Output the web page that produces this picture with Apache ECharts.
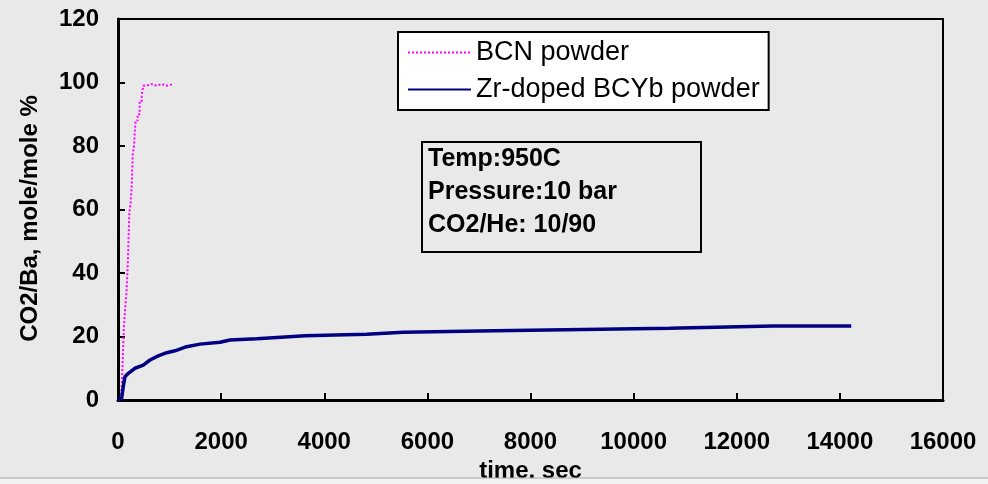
<!DOCTYPE html>
<html>
<head>
<meta charset="utf-8">
<title>CO2 uptake</title>
<script src="https://cdn.jsdelivr.net/npm/echarts@6/dist/echarts.min.js"></script>
<style>
  html, body { margin: 0; padding: 0; background: #e9e9e9; }
  #chart { width: 988px; height: 484px; }
</style>
</head>
<body>
<div id="chart"></div>
<script>
// BCN powder (time in sec, CO2/Ba mole/mole %)
const bcnTime = [0, 60, 75, 95, 115, 140, 165, 195, 220, 245, 265, 285, 310, 340, 380, 420, 460, 490, 550, 650, 750, 850, 950, 1070]
const bcnValue = [0, 2, 5, 14, 23, 29, 34, 45, 59, 62, 67, 77, 80, 88, 90, 94, 96, 99, 99.5, 99, 99.5, 99, 99.5, 99.5]

// Zr-doped BCYb powder
const zrTime = [0, 70, 100, 135, 200, 330, 490, 620, 780, 945, 1105, 1330, 1590, 1980, 2170, 2690, 3630, 4820, 5530, 7310, 9350, 10700, 10900, 12710, 14220]
const zrValue = [0, 0.5, 4, 7.3, 8.4, 10, 11, 12.6, 13.9, 14.9, 15.5, 16.8, 17.6, 18.2, 18.9, 19.3, 20.2, 20.7, 21.3, 21.8, 22.3, 22.6, 22.7, 23.3, 23.3]

const seriesNames = ['BCN powder', 'Zr-doped BCYb powder']
const noteLines = ['Temp:950C', 'Pressure:10 bar', 'CO2/He: 10/90']

const bcnData = bcnTime.map((t, i) => [t, bcnValue[i]])
const zrData = zrTime.map((t, i) => [t, zrValue[i]])

const chart = echarts.init(document.getElementById('chart'))
const tickFont = {
  fontFamily: '"Liberation Sans", Arial, sans-serif',
  fontWeight: 'bold',
  fontSize: 24,
  color: '#000'
}

chart.setOption({
  backgroundColor: '#e9e9e9',
  animation: false,
  grid: {
    left: 118,
    top: 19,
    right: 45,
    bottom: 84,
    outerBoundsMode: 'none',
    show: true,
    borderColor: '#000',
    borderWidth: 2,
    backgroundColor: 'transparent'
  },
  legend: {
    orient: 'vertical',
    left: 398,
    top: 32,
    padding: [7, 9, 7, 9],
    backgroundColor: '#fff',
    borderColor: '#000',
    borderWidth: 2,
    borderRadius: 0,
    itemWidth: 63,
    itemHeight: 14,
    itemGap: 10,
    itemStyle: { opacity: 0 },
    textStyle: {
      fontFamily: '"Liberation Sans", Arial, sans-serif',
      fontSize: 27,
      lineHeight: 26,
      color: '#000'
    },
    data: seriesNames
  },
  xAxis: {
    type: 'value',
    min: 0,
    max: 16000,
    interval: 2000,
    name: 'time, sec',
    nameLocation: 'middle',
    nameGap: 57,
    nameTextStyle: tickFont,
    axisLine: { lineStyle: { color: '#000', width: 3 } },
    axisTick: { inside: true, length: 7, lineStyle: { color: '#000', width: 2 } },
    axisLabel: Object.assign({ margin: 30, formatter: v => String(v) }, tickFont),
    splitLine: { show: false }
  },
  yAxis: {
    type: 'value',
    min: 0,
    max: 120,
    interval: 20,
    name: 'CO2/Ba, mole/mole %',
    nameLocation: 'middle',
    nameGap: 76,
    nameTextStyle: Object.assign({ padding: [0, 18, 0, 0] }, tickFont),
    axisLine: { show: true, lineStyle: { color: '#000', width: 3 } },
    axisTick: { show: true, inside: true, length: 7, lineStyle: { color: '#000', width: 2 } },
    axisLabel: Object.assign({ margin: 19 }, tickFont),
    splitLine: { show: false }
  },
  series: [
    {
      name: seriesNames[0],
      type: 'line',
      step: 'end',
      symbol: 'none',
      data: bcnData,
      itemStyle: { color: '#ff00ff' },
      lineStyle: { color: '#ff00ff', width: 2, type: 'dotted' }
    },
    {
      name: seriesNames[1],
      type: 'line',
      symbol: 'none',
      data: zrData,
      itemStyle: { color: '#000080' },
      lineStyle: { color: '#000080', width: 3.5 }
    }
  ],
  graphic: [
    {
      type: 'rect',
      shape: { x: 422, y: 142, width: 279, height: 110 },
      style: { fill: 'none', stroke: '#000', lineWidth: 2 }
    },
    {
      type: 'text',
      left: 428,
      top: 143,
      style: {
        text: noteLines.join('\n'),
        font: 'bold 25px "Liberation Sans", Arial, sans-serif',
        lineHeight: 33,
        fill: '#000'
      }
    },
    {
      type: 'rect',
      z: 100,
      shape: { x: 0, y: 478, width: 988, height: 6 },
      style: { fill: '#f2f2f2' }
    },
    {
      type: 'line',
      z: 101,
      shape: { x1: 0, y1: 478, x2: 988, y2: 478 },
      style: { stroke: '#a8a8a8', lineWidth: 1 }
    }
  ]
})
</script>
</body>
</html>
